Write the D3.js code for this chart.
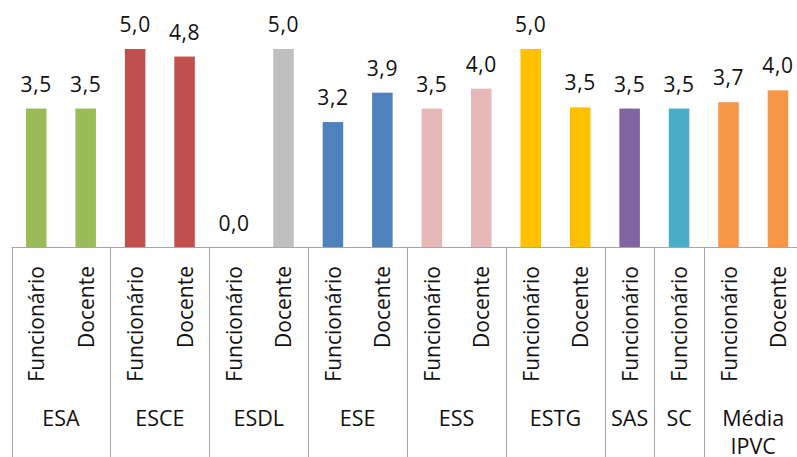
<!DOCTYPE html>
<html>
<head>
<meta charset="utf-8">
<script src="https://cdn.jsdelivr.net/npm/d3@7/dist/d3.min.js"></script>
<style>
  html, body { margin: 0; padding: 0; background: #fff; }
  svg { display: block; }
  text { font-family: "Open Sans", "Noto Sans", sans-serif; fill: #111; }
</style>
</head>
<body>
<svg id="chart" width="797" height="457"></svg>
<script>
// ---- data ----
const groupNames = ["ESA", "ESCE", "ESDL", "ESE", "ESS", "ESTG", "SAS", "SC", "Média IPVC"];
const groupColors = ["#9BBB59", "#C0504D", "#BFBFBF", "#4F81BD", "#E6B9B8", "#FFC000", "#8064A2", "#4BACC6", "#F79646"];
const barGroups = ["ESA", "ESA", "ESCE", "ESCE", "ESDL", "ESDL", "ESE", "ESE", "ESS", "ESS", "ESTG", "ESTG", "SAS", "SC", "Média IPVC", "Média IPVC"];
const barRoles = ["Funcionário", "Docente", "Funcionário", "Docente", "Funcionário", "Docente", "Funcionário", "Docente", "Funcionário", "Docente", "Funcionário", "Docente", "Funcionário", "Funcionário", "Funcionário", "Docente"];
const barValues = [3.5, 3.5, 5.0, 4.81, 0.0, 5.0, 3.16, 3.9, 3.5, 4.0, 5.0, 3.53, 3.5, 3.5, 3.66, 3.96];

// ---- layout ----
const svg = d3.select("#chart");
const axisY = 247.5;
const left = 11.5, right = 802.7;

const keys = barValues.map((_, i) => i);
const x = d3.scaleBand().domain(keys).range([left, right]).paddingInner(0.585).paddingOuter(0.2925);
const y = d3.scaleLinear().domain([0, 5]).range([axisY, 49]);
const color = d3.scaleOrdinal().domain(groupNames).range(groupColors);
const fmt = v => v.toFixed(1).replace(".", ",");
const step = x.step();

// bars
svg.append("g").selectAll("rect").data(keys).join("rect")
  .attr("x", i => x(i))
  .attr("y", i => y(barValues[i]))
  .attr("width", x.bandwidth())
  .attr("height", i => axisY - y(barValues[i]))
  .attr("fill", i => color(barGroups[i]));

// value labels
svg.append("g").selectAll("text").data(keys).join("text")
  .attr("x", i => x(i) + x.bandwidth() / 2)
  .attr("y", i => y(barValues[i]) - 17)
  .attr("text-anchor", "middle")
  .style("font-size", "21px")
  .style("letter-spacing", "0.6px")
  .text(i => fmt(barValues[i]));

// axis line
const lineColor = "#A6A6A6";
svg.append("line")
  .attr("x1", left).attr("x2", right).attr("y1", axisY).attr("y2", axisY)
  .attr("stroke", lineColor).attr("stroke-width", 1);

// group extents from the band scale
const groupExt = groupNames.map(g => {
  const idx = keys.filter(i => barGroups[i] === g);
  const s = x(idx[0]) - x.paddingInner() * step / 2;
  const e = x(idx[idx.length - 1]) + x.bandwidth() + x.paddingInner() * step / 2;
  return { g, s, e };
});

// dividers
const divX = [groupExt[0].s, ...groupExt.map(d => d.e)];
svg.append("g").selectAll("line").data(divX).join("line")
  .attr("x1", d => Math.round(d) + 0.5).attr("x2", d => Math.round(d) + 0.5)
  .attr("y1", axisY).attr("y2", 457)
  .attr("stroke", lineColor).attr("stroke-width", 1);

// rotated role labels
svg.append("g").selectAll("text").data(keys).join("text")
  .attr("transform", i => `translate(${x(i) + x.bandwidth() / 2},266) rotate(-90)`)
  .attr("text-anchor", "end")
  .attr("dominant-baseline", "central")
  .style("font-size", "21px")
  .text(i => barRoles[i]);

// group labels
const gl = svg.append("g").selectAll("text").data(groupExt).join("text")
  .attr("x", d => (d.s + d.e) / 2)
  .attr("y", 426)
  .attr("text-anchor", "middle")
  .style("font-size", "21.5px");
gl.each(function(d) {
  const words = d.g.split(" ");
  const t = d3.select(this);
  words.forEach((w, k) => {
    t.append("tspan").attr("x", (d.s + d.e) / 2).attr("dy", k === 0 ? 0 : 28).text(w);
  });
});
</script>
</body>
</html>
